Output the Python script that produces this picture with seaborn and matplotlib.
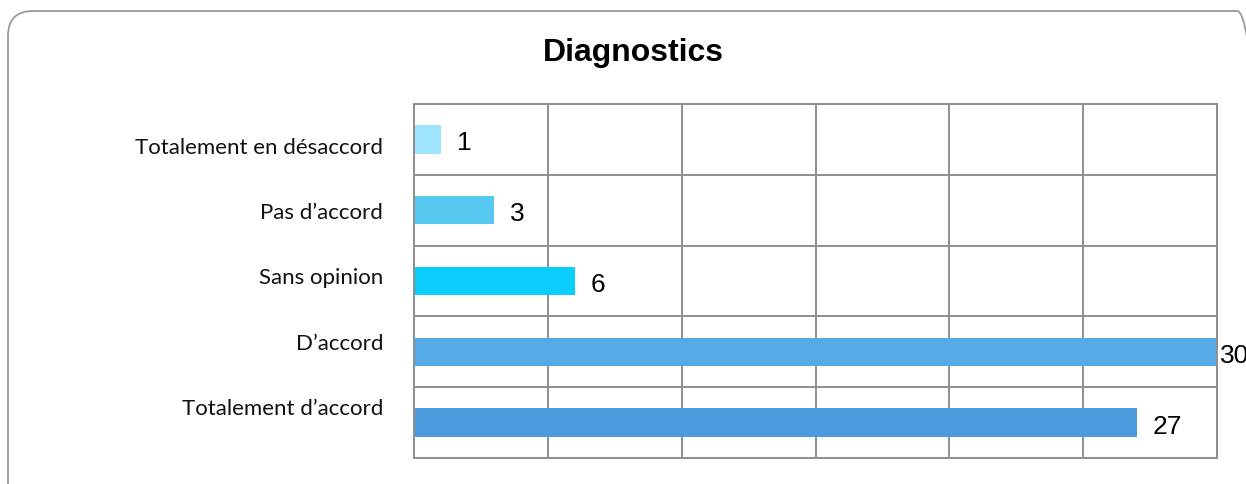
import matplotlib
matplotlib.use("Agg")
import matplotlib.pyplot as plt
import seaborn as sns
import pandas as pd
from matplotlib.patches import FancyBboxPatch
from matplotlib.transforms import IdentityTransform

# ---- data ----
categories = ["Totalement en désaccord", "Pas d\u2019accord", "Sans opinion",
              "D\u2019accord", "Totalement d\u2019accord"]
values = [1, 3, 6, 30, 27]
title = "Diagnostics"

palette = ["#9FE4FD", "#57C8EF", "#0ACCFD", "#56AAE6", "#4B9BDF"]
GRID = "#8E8E8E"

sns.set_theme(style="white")
plt.rcParams["font.family"] = ["Liberation Sans", "DejaVu Sans"]

W, H, DPI = 1246, 485, 100
fig = plt.figure(figsize=(W / DPI, H / DPI), dpi=DPI)

# rounded frame around the chart (right and bottom edges run off the canvas)
rad = 25
fx0, fx1, fy_top = 8, 1262, H - 12
frame = FancyBboxPatch((fx0, -60), fx1 - fx0, fy_top + 60,
                       boxstyle=f"round,pad=0,rounding_size={rad}",
                       transform=IdentityTransform(),
                       facecolor="none", edgecolor="#9A9A9A", linewidth=1.3,
                       clip_on=False)
fig.add_artist(frame)

# main plotting area
L, R, T, B = 414, 1217, 105, 459
ax = fig.add_axes([L / W, 1 - B / H, (R - L) / W, (B - T) / H])

df = pd.DataFrame({"cat": categories, "val": values})
sns.barplot(data=df, y="cat", x="val", hue="cat", palette=palette, legend=False,
            orient="h", width=0.4, ax=ax, saturation=1, order=categories,
            hue_order=categories, edgecolor="none")

ax.set_xlim(0, 30)
ax.set_ylim(len(categories) - 0.5, -0.5)
ax.set_xticks(range(0, 31, 5))
ax.set_yticks([i - 0.5 for i in range(len(categories) + 1)])
ax.grid(True, color=GRID, linewidth=1.4)
ax.set_axisbelow(True)
ax.tick_params(length=0, labelbottom=False, labelleft=False)
ax.set_xlabel("")
ax.set_ylabel("")
for s in ax.spines.values():
    s.set_color(GRID)
    s.set_linewidth(1.4)

# value labels
xmax = ax.get_xlim()[1]
for i, v in enumerate(values):
    dx = 3 if v >= xmax else 16
    ax.annotate(str(v), xy=(v, i), xytext=(dx * 72 / DPI, -3 * 72 / DPI),
                textcoords="offset points", ha="left", va="center",
                fontsize=19, color="black", annotation_clip=False,
                family=["Liberation Sans"])

# category labels (separate axis to match the reference spacing)
lab_top, lab_bot = 113.4, 439.6
lax = fig.add_axes([L / W, 1 - lab_bot / H, 0.001, (lab_bot - lab_top) / H])
lax.set_ylim(len(categories) - 0.5, -0.5)
lax.set_yticks(range(len(categories)))
lax.set_yticklabels(categories, family=["Lato", "DejaVu Sans"], fontsize=16,
                    color="#111111")
lax.tick_params(length=0, pad=31 * 72 / DPI, labelbottom=False)
lax.set_xticks([])
lax.patch.set_visible(False)
for s in lax.spines.values():
    s.set_visible(False)

fig.text(633 / W, 1 - 61 / H, title, ha="center", va="baseline",
         fontsize=23, fontweight="bold", color="black")

fig.savefig("out.png", dpi=DPI)
